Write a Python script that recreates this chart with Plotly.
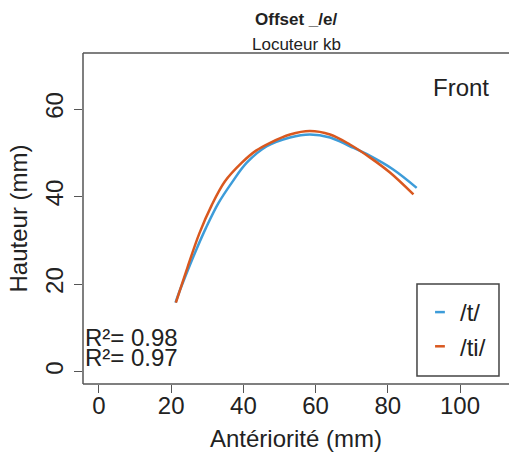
import plotly.graph_objects as go

# Data
t_x = [21.2, 22.6, 24.6, 26.8, 29.6, 33.0, 36.8, 41.0, 46.5, 52.9, 58.4, 64.0, 69.5, 75.1, 81.5, 88.0]
t_y = [15.8, 19.0, 23.2, 27.6, 32.8, 38.4, 43.2, 47.8, 51.5, 53.5, 54.2, 53.5, 51.5, 49.3, 46.2, 42.0]
ti_x = [21.3, 24.5, 27.8, 31.2, 34.9, 39.5, 43.5, 47.4, 52.9, 58.4, 64.0, 69.5, 75.1, 80.6, 87.1]
ti_y = [15.8, 23.8, 31.6, 38.0, 43.5, 47.7, 50.5, 52.3, 54.2, 55.0, 54.2, 51.9, 48.9, 45.5, 40.5]
series_names = ["/t/", "/ti/"]
r2_labels = ["R²= 0.98", "R²= 0.97"]
x_ticks = [0, 20, 40, 60, 80, 100]
y_ticks = [0, 20, 40, 60]

BLUE = "#3d9cd9"
RED = "#d9581f"
FONT = "Liberation Sans, Arial, sans-serif"
TXT = "#222"

fig = go.Figure()
fig.add_trace(go.Scatter(x=t_x, y=t_y, mode="lines", line=dict(color=BLUE, width=2.5, shape="spline"),
                         showlegend=False, name=series_names[0]))
fig.add_trace(go.Scatter(x=ti_x, y=ti_y, mode="lines", line=dict(color=RED, width=2.5, shape="spline"),
                         showlegend=False, name=series_names[1]))
# legend entries (short dash symbol)
for name, col in zip(series_names, [BLUE, RED]):
    fig.add_trace(go.Scatter(x=[None], y=[None], mode="markers", name=name,
                             marker=dict(symbol="line-ew", size=7, line=dict(color=col, width=2.5))))

fig.update_layout(
    width=509, height=454,
    margin=dict(l=83, r=0, t=53, b=70),
    paper_bgcolor="white", plot_bgcolor="white",
    font=dict(family=FONT, color=TXT),
    showlegend=True,
    legend=dict(x=0.791, xanchor="left", y=0.284, yanchor="top",
                borderwidth=0, bgcolor="rgba(0,0,0,0)",
                font=dict(size=24, family=FONT, color=TXT),
                itemwidth=30, tracegroupgap=0),
    xaxis=dict(range=[-4.43, 113.57], tickvals=x_ticks, ticks="outside", ticklen=8,
               tickcolor="#555", tickwidth=1, showgrid=False, zeroline=False, showline=False,
               ticklabelstandoff=-8,
               tickfont=dict(size=24, family=FONT, color=TXT),
               title=dict(text="Antériorité (mm)", font=dict(size=24, family=FONT, color=TXT), standoff=12)),
    yaxis=dict(range=[-2.8, 72.8], tickvals=y_ticks, ticks="outside", ticklen=8,
               tickcolor="#555", tickwidth=1, showgrid=False, zeroline=False, showline=False,
               tickangle=-90, ticklabelstandoff=1,
               tickfont=dict(size=24, family=FONT, color=TXT),
               title=dict(text="Hauteur (mm)", font=dict(size=24, family=FONT, color=TXT), standoff=7)),
)

# box (left, top, bottom; right edge lies beyond the page)
for x0, y0, x1, y1 in [(0, 0, 0, 1), (0, 1, 1, 1), (0, 0, 1, 0)]:
    fig.add_shape(type="line", xref="paper", yref="paper", x0=x0, y0=y0, x1=x1, y1=y1,
                  line=dict(color="#555", width=1.5))
# legend frame
fig.add_shape(type="rect", xref="paper", yref="paper", x0=0.784, x1=0.9765, y0=0.024, y1=0.302,
              line=dict(color="#444", width=1.5), fillcolor="rgba(0,0,0,0)")

fig.add_annotation(text="<b>Offset _/e/</b>", xref="paper", yref="paper", x=0.5, y=1,
                   yanchor="middle", yshift=34, showarrow=False,
                   font=dict(size=17, family=FONT, color=TXT))
fig.add_annotation(text="Locuteur kb", xref="paper", yref="paper", x=0.5, y=1,
                   yanchor="middle", yshift=9, showarrow=False,
                   font=dict(size=17, family=FONT, color=TXT))
fig.add_annotation(text="Front", x=100.3, y=65, xref="x", yref="y", showarrow=False,
                   font=dict(size=24, family=FONT, color=TXT))
for i, lab in enumerate(r2_labels):
    fig.add_annotation(text=lab, xref="paper", yref="y", x=0.001, xanchor="left",
                       y=7.8 - 4.6 * i, showarrow=False,
                       font=dict(size=24, family=FONT, color=TXT))

fig.write_html("out.html", config={"displayModeBar": False},
               post_script="document.body.style.margin='0';document.body.style.overflow='hidden';")
